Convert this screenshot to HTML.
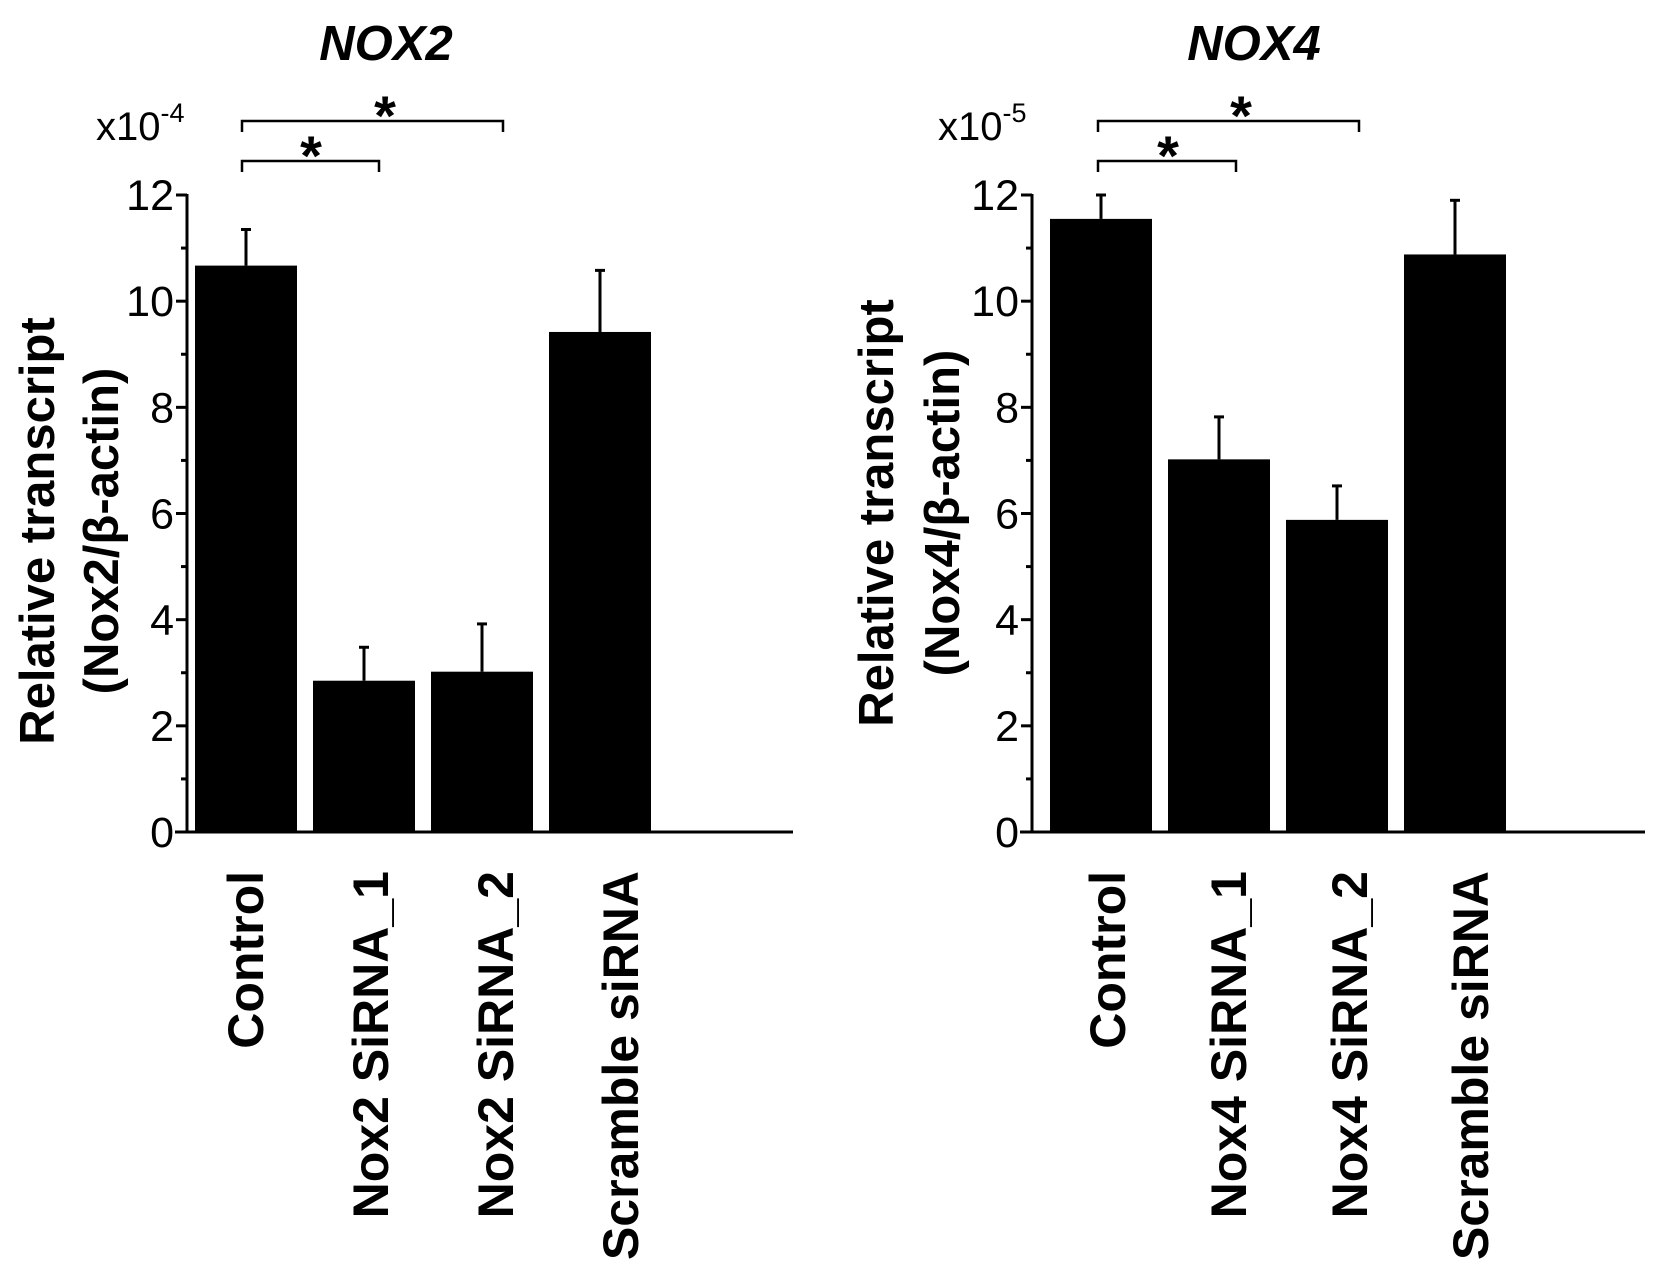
<!DOCTYPE html>
<html><head><meta charset="utf-8"><style>
html,body{margin:0;padding:0;background:#fff;}
svg{display:block;font-family:"Liberation Sans",sans-serif;}
</style></head><body>
<svg id="fig" width="1654" height="1261" viewBox="0 0 1654 1261" xmlns="http://www.w3.org/2000/svg"></svg>
<script>
const nox2Categories = ["Control","Nox2 SiRNA_1","Nox2 SiRNA_2","Scramble siRNA"];
const nox2Values = [10.67, 2.85, 3.02, 9.42];
const nox2Errors = [0.68, 0.63, 0.90, 1.16];
const nox4Categories = ["Control","Nox4 SiRNA_1","Nox4 SiRNA_2","Scramble siRNA"];
const nox4Values = [11.55, 7.02, 5.88, 10.88];
const nox4Errors = [0.45, 0.80, 0.64, 1.02];
const yTicks = [0,2,4,6,8,10,12];
const yMinorTicks = [1,3,5,7,9,11];

const NS="http://www.w3.org/2000/svg";
const svg=document.getElementById('fig');
function mk(tag,attrs,parent){const e=document.createElementNS(NS,tag);for(const k in attrs)e.setAttribute(k,attrs[k]);(parent||svg).appendChild(e);return e;}

function panel(cfg){
  const g=mk('g',{});
  
  
  const y0=832,y12=195;
  const yScale=v=>y0-(v/12)*(y0-y12);
  const barLeft=i=>cfg.bar0+i*cfg.barStep;
  const ya=mk('line',{x1:cfg.axisX,y1:y12-1,x2:cfg.axisX,y2:y0+1,stroke:'#000','stroke-width':3},g);
  
  
  const xa=mk('line',{x1:cfg.axisX-12,y1:y0,x2:cfg.axisEnd,y2:y0,stroke:'#000','stroke-width':3},g);
  
  
  yTicks.forEach(t=>{
    const y=yScale(t);
    const tk=mk('line',{x1:cfg.axisX-11,y1:y,x2:cfg.axisX,y2:y,stroke:'#000','stroke-width':3},g);
    
    
    const tl=mk('text',{x:cfg.axisX-13,y:y+15,'text-anchor':'end','font-size':43},g);
    tl.textContent=String(t);
    
    
  });
  yMinorTicks.forEach(t=>{
    const y=yScale(t);
    const tk=mk('line',{x1:cfg.axisX-6,y1:y,x2:cfg.axisX,y2:y,stroke:'#000','stroke-width':3},g);
    
    
  });
  cfg.values.forEach((v,i)=>{
    const x=barLeft(i),w=cfg.barW,cx=x+w/2;
    const r=mk('rect',{x:x,y:yScale(v),width:w,height:y0-yScale(v),fill:'#000'},g);
    
    
    const top=yScale(v+cfg.errors[i]);
    const el=mk('line',{x1:cx,y1:yScale(v),x2:cx,y2:top,stroke:'#000','stroke-width':3},g);
    
    
    const ec=mk('line',{x1:cx-5,y1:top,x2:cx+5,y2:top,stroke:'#000','stroke-width':3},g);
    
    
    const lx=cfg.label0+i*cfg.labelStep;
    const lt=mk('text',{x:0,y:0,transform:`translate(${lx},871) rotate(-90)`,'text-anchor':'end','font-size':50,'font-weight':'bold'},g);
    lt.textContent=cfg.cats[i];
    
    
  });
  const tt=mk('text',{x:cfg.titleX,y:60,'text-anchor':'middle','font-size':49,'font-weight':'bold','font-style':'italic'},g);
  tt.textContent=cfg.title;
  
  
  const ex=mk('text',{x:cfg.expX,y:140,'font-size':40},g);
  ex.innerHTML='x10<tspan font-size="27" dy="-18">'+cfg.exp+'</tspan>';
  
  
  const t1=mk('text',{x:0,y:0,transform:`translate(${cfg.yt1},${cfg.ytc}) rotate(-90)`,'text-anchor':'middle','font-size':49,'font-weight':'bold'},g);
  t1.textContent='Relative transcript';
  
  
  const t2=mk('text',{x:0,y:0,transform:`translate(${cfg.yt2},${cfg.ytc}) rotate(-90)`,'text-anchor':'middle','font-size':49,'font-weight':'bold'},g);
  t2.textContent=cfg.yt2text;
  
  
  cfg.brackets.forEach(b=>{
    const p=mk('path',{d:`M${b.x1},${b.y+11} V${b.y} H${b.x2} V${b.y+11}`,fill:'none',stroke:'#000','stroke-width':2.5},g);
    
    
    const s=mk('text',{x:b.sx,y:b.y+14,'text-anchor':'middle','font-size':56,'font-weight':'bold'},g);
    s.textContent='*';
    
    
  });
}

panel({name:'nox2-panel',title:'NOX2',titleX:386,axisX:187,axisEnd:793,bar0:195,barStep:118,barW:102,
  values:nox2Values,errors:nox2Errors,cats:nox2Categories,label0:263,labelStep:125,
  exp:'-4',expX:96,yt1:54,yt2:118,ytc:531,yt2text:'(Nox2/β-actin)',
  brackets:[{x1:242,x2:503,y:121,sx:385},{x1:242,x2:379,y:161,sx:311}]});
panel({name:'nox4-panel',title:'NOX4',titleX:1254,axisX:1032,axisEnd:1645,bar0:1050,barStep:118,barW:102,
  values:nox4Values,errors:nox4Errors,cats:nox4Categories,label0:1125,labelStep:121,
  exp:'-5',expX:938,yt1:893,yt2:959,ytc:513,yt2text:'(Nox4/β-actin)',
  brackets:[{x1:1098,x2:1359,y:121,sx:1241},{x1:1098,x2:1236,y:161,sx:1168}]});
</script>
</body></html>
